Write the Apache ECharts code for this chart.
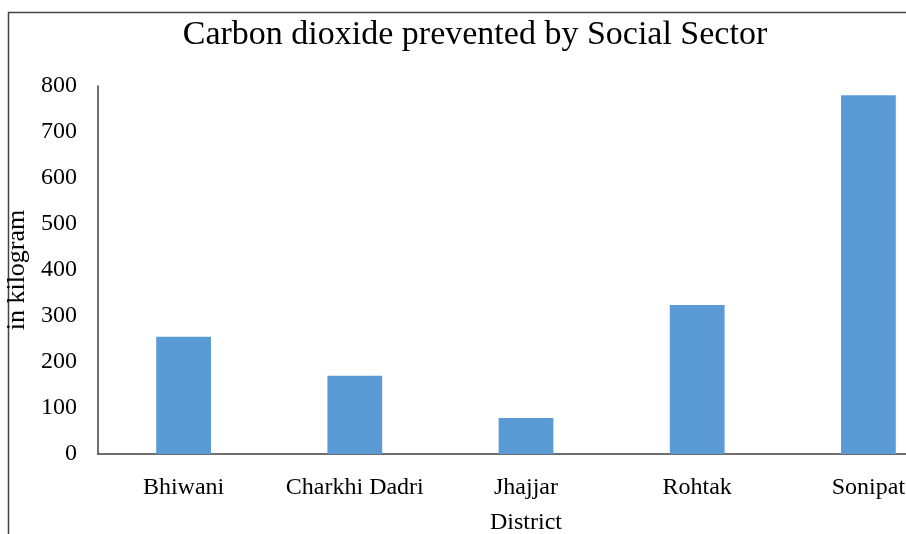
<!DOCTYPE html>
<html>
<head>
<meta charset="utf-8">
<script src="https://cdn.jsdelivr.net/npm/echarts@6/dist/echarts.min.js"></script>
<style>
  html, body { margin: 0; padding: 0; background: #fff; }
  #chart { width: 906px; height: 534px; }
</style>
</head>
<body>
<div id="chart"></div>
<script>
// Districts and CO2 prevented (kg) by the social sector
const districts = ['Bhiwani', 'Charkhi Dadri', 'Jhajjar', 'Rohtak', 'Sonipat'];
const co2Prevented = [255, 170, 78, 324, 780];
const yTicks = [0, 100, 200, 300, 400, 500, 600, 700, 800];

const serif = '"Liberation Serif", "Times New Roman", serif';
const chart = echarts.init(document.getElementById('chart'));

chart.setOption({
  backgroundColor: '#ffffff',
  animation: false,
  title: {
    text: 'Carbon dioxide prevented by Social Sector',
    left: 470,
    textAlign: 'center',
    top: 13,
    textStyle: { fontFamily: serif, fontSize: 34, fontWeight: 'normal', color: '#000' }
  },
  graphic: [{
    type: 'rect',
    shape: { x: 8.5, y: 12.5, width: 1200, height: 1200 },
    style: { fill: 'none', stroke: '#444', lineWidth: 1.5 },
    silent: true
  }],
  grid: { left: 98, right: -48, top: 86, bottom: 80, outerBoundsMode: 'none' },
  xAxis: {
    type: 'category',
    data: districts,
    name: 'District',
    nameLocation: 'middle',
    nameGap: 57,
    nameTextStyle: { fontFamily: serif, fontSize: 24, color: '#000' },
    axisLine: { lineStyle: { color: '#404040', width: 1.5 } },
    axisTick: { show: false },
    axisLabel: { fontFamily: serif, fontSize: 24, color: '#000', margin: 22, interval: 0, hideOverlap: false }
  },
  yAxis: {
    type: 'value',
    min: yTicks[0],
    max: yTicks[yTicks.length - 1],
    interval: yTicks[1] - yTicks[0],
    name: 'in kilogram',
    nameLocation: 'middle',
    nameRotate: 90,
    nameGap: 61,
    nameTextStyle: { fontFamily: serif, fontSize: 26, color: '#000' },
    axisLine: { show: true, lineStyle: { color: '#404040', width: 1.5 } },
    axisTick: { show: false },
    splitLine: { show: false },
    axisLabel: { fontFamily: serif, fontSize: 24, color: '#000', margin: 21 }
  },
  series: [{
    type: 'bar',
    data: co2Prevented,
    barWidth: '32%',
    itemStyle: { color: '#5B9BD5' }
  }]
});
</script>
</body>
</html>
